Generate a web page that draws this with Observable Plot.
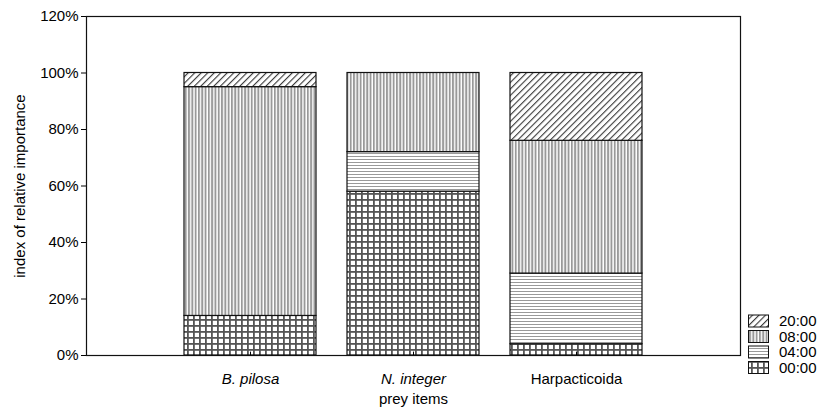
<!DOCTYPE html>
<html>
<head>
<meta charset="utf-8">
<script src="https://cdn.jsdelivr.net/npm/d3@7"></script>
<script src="https://cdn.jsdelivr.net/npm/@observablehq/plot@0.6"></script>
<style>
  body { margin: 0; background: #fff; font-family: "Liberation Sans", Arial, sans-serif; }
  #wrap { position: relative; width: 820px; height: 408px; }
  #legend { position: absolute; left: 0; top: 0; }
</style>
</head>
<body>
<svg width="0" height="0" style="position:absolute">
  <defs>
    <pattern id="p2000" patternUnits="userSpaceOnUse" width="4.6" height="4.6" patternTransform="rotate(45)">
      <rect width="4.6" height="4.6" fill="#fff"/>
      <line x1="0.6" y1="0" x2="0.6" y2="4.6" stroke="#222" stroke-width="1"/>
    </pattern>
    <pattern id="p0800" patternUnits="userSpaceOnUse" width="3.3" height="4">
      <rect width="3.3" height="4" fill="#fff"/>
      <rect x="0" y="0" width="1.9" height="4" fill="#999"/>
    </pattern>
    <pattern id="p0400" patternUnits="userSpaceOnUse" width="4" height="3">
      <rect width="4" height="3" fill="#fff"/>
      <rect x="0" y="0" width="4" height="1" fill="#999"/>
    </pattern>
    <pattern id="p0000" patternUnits="userSpaceOnUse" width="6" height="6" x="1" y="1">
      <rect width="6" height="6" fill="#fff"/>
      <rect x="0" y="0" width="1.8" height="6" fill="#555"/>
      <rect x="0" y="0" width="6" height="1.8" fill="#555"/>
    </pattern>
  </defs>
</svg>
<div id="wrap"></div>
<script>
const categories = ["B. pilosa", "N. integer", "Harpacticoida"];
const italicCats = ["B. pilosa", "N. integer"];
const times = ["00:00", "04:00", "08:00", "20:00"];
const v0000 = [14, 58, 4];
const v0400 = [0, 14, 25];
const v0800 = [81, 28, 47];
const v2000 = [5, 0, 24];
const yTicks = [0, 20, 40, 60, 80, 100, 120];
const legendOrder = ["20:00", "08:00", "04:00", "00:00"];

const seriesValues = { "00:00": v0000, "04:00": v0400, "08:00": v0800, "20:00": v2000 };
const patternFor = { "00:00": "url(#p0000)", "04:00": "url(#p0400)", "08:00": "url(#p0800)", "20:00": "url(#p2000)" };

const data = [];
categories.forEach((c, i) => {
  times.forEach(t => {
    const v = seriesValues[t][i];
    if (v > 0) data.push({ cat: c, time: t, value: v });
  });
});

const FS = 15;
const chart = Plot.plot({
  width: 820,
  height: 408,
  marginLeft: 86,
  marginRight: 80,
  marginTop: 16,
  marginBottom: 53,
  style: { fontFamily: "Liberation Sans, Arial, sans-serif", fontSize: FS + "px", background: "#fff", color: "#000" },
  x: { domain: categories, paddingInner: 0.19, paddingOuter: 0.6, label: null },
  y: { domain: [0, 120], label: null },
  color: { domain: times, range: times.map(t => patternFor[t]) },
  marks: [
    Plot.barY(data, {
      x: "cat", y: "value", fill: "time", order: times,
      stroke: "#111", strokeWidth: 1.2
    }),
    Plot.axisY({ ticks: yTicks, tickFormat: d => d + "%", tickSize: 5, tickPadding: 3, label: null, fontSize: FS }),
    Plot.axisX({ tickSize: 0, tickPadding: 18, label: null, fontSize: FS }),
    Plot.ruleX(categories, { x: d => d, y1: 0, y2: 1.2, stroke: "#000", strokeWidth: 1 }),
    Plot.frame({ stroke: "#111", strokeWidth: 1.2 }),
    Plot.text(["index of relative importance"], { frameAnchor: "left", dx: -66, rotate: -90, textAnchor: "middle", fontSize: FS, text: d => d }),
    Plot.text(["prey items"], { frameAnchor: "bottom", dy: 48, fontSize: FS, text: d => d })
  ]
});

// italicize species names
d3.select(chart).selectAll("g[aria-label='x-axis tick label'] text").each(function () {
  const t = d3.select(this).text();
  if (italicCats.includes(t)) d3.select(this).style("font-style", "italic");
});

document.getElementById("wrap").appendChild(chart);

// legend
const leg = d3.select("#wrap").append("svg").attr("id", "legend").attr("width", 820).attr("height", 408);
legendOrder.forEach((t, i) => {
  const y = 315 + i * 15.5;
  leg.append("rect").attr("x", 748.5).attr("y", y).attr("width", 20).attr("height", 12)
    .attr("fill", patternFor[t]).attr("stroke", "#111").attr("stroke-width", 1);
  leg.append("text").attr("x", 779).attr("y", y + 6).attr("dy", "0.35em")
    .attr("font-size", 15).attr("font-family", "Liberation Sans, Arial, sans-serif").text(t);
});
</script>
</body>
</html>
